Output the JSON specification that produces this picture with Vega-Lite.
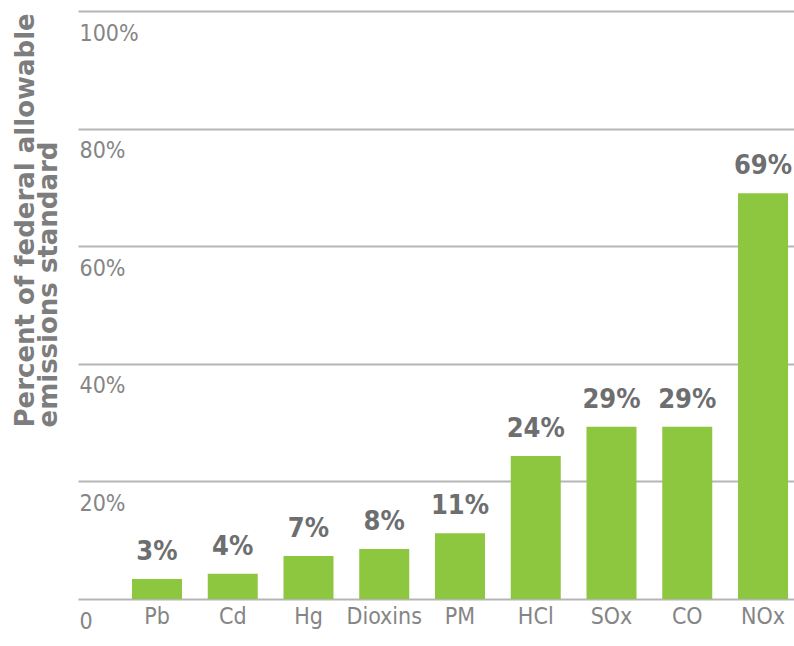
{
  "$schema": "https://vega.github.io/schema/vega-lite/v6.json",
  "width": 716,
  "height": 588,
  "autosize": "none",
  "padding": {"left": 78, "top": 11, "right": 0, "bottom": 47},
  "background": "white",
  "data": {
    "values": [
      {"pollutant": "Pb", "value": 3.4, "label": "3%"},
      {"pollutant": "Cd", "value": 4.3, "label": "4%"},
      {"pollutant": "Hg", "value": 7.3, "label": "7%"},
      {"pollutant": "Dioxins", "value": 8.5, "label": "8%"},
      {"pollutant": "PM", "value": 11.2, "label": "11%"},
      {"pollutant": "HCl", "value": 24.3, "label": "24%"},
      {"pollutant": "SOx", "value": 29.3, "label": "29%"},
      {"pollutant": "CO", "value": 29.3, "label": "29%"},
      {"pollutant": "NOx", "value": 69, "label": "69%"}
    ]
  },
  "config": {
    "view": {"stroke": null},
    "font": "DejaVu Sans Condensed, sans-serif"
  },
  "encoding": {
    "x": {
      "field": "pollutant",
      "type": "nominal",
      "sort": null,
      "scale": {"paddingInner": 0.34, "paddingOuter": 0.396, "align": 0.9},
      "axis": {
        "title": null,
        "domain": false,
        "ticks": false,
        "labelAngle": 0,
        "labelPadding": 6,
        "labelBaseline": "top",
        "labelFont": "DejaVu Sans Condensed, sans-serif",
        "labelFontSize": 23,
        "labelColor": "#858585"
      }
    },
    "y": {
      "field": "value",
      "type": "quantitative",
      "scale": {"domain": [0, 100], "nice": false},
      "axis": {
        "values": [0, 20, 40, 60, 80, 100],
        "labelExpr": "datum.value == 0 ? '0' : datum.value + '%'",
        "grid": true,
        "gridColor": "#b5b5b5",
        "gridWidth": 2,
        "domain": false,
        "ticks": false,
        "tickSize": 0,
        "labelAlign": "left",
        "labelBaseline": "top",
        "labelPadding": -1,
        "labelOffset": 11,
        "labelFlush": false,
        "labelFont": "DejaVu Sans Condensed, sans-serif",
        "labelFontSize": 23,
        "labelColor": "#858585",
        "title": ["Percent of federal allowable", "emissions standard"],
        "titleFont": "DejaVu Sans, sans-serif",
        "titleFontSize": 26,
        "titleFontWeight": "bold",
        "titleColor": "#7d7d7d",
        "titleAngle": 270,
        "titleAlign": "left",
        "titleBaseline": "top",
        "titleLineHeight": 23,
        "titleX": -66,
        "titleY": 416
      }
    }
  },
  "layer": [
    {"mark": {"type": "bar", "color": "#8dc63f"}},
    {
      "mark": {
        "type": "text",
        "baseline": "bottom",
        "dy": -13,
        "font": "DejaVu Sans Condensed, sans-serif",
        "fontSize": 27,
        "fontWeight": "bold",
        "color": "#6d6e70"
      },
      "encoding": {"text": {"field": "label"}}
    }
  ]
}
